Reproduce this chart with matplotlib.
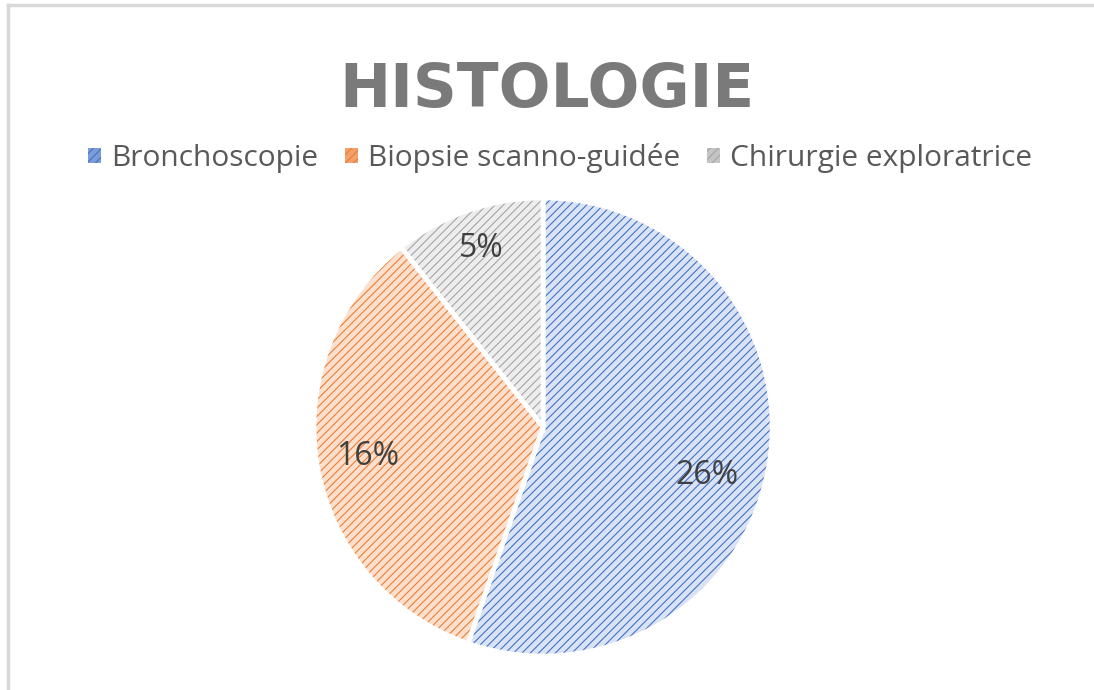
import matplotlib.pyplot as plt
import matplotlib.colors as mcolors
import numpy as np
from matplotlib.lines import Line2D
from matplotlib.patches import Patch

# données du graphique
categories = ["Bronchoscopie", "Biopsie scanno-guidée", "Chirurgie exploratrice"]
values = [26, 16, 5]
title = "HISTOLOGIE"

edge_colors = ["#4472C4", "#ED7D31", "#A5A5A5"]
face_colors = ["#DAE3F5", "#FCE0CD", "#EDEDED"]
legend_colors = ["#7D9BD6", "#F2A06C", "#C4C4C4"]
label_dist = [0.75, 0.78, 0.83]
label_shift = [-7, 0, 0]   # décalage angulaire des étiquettes (degrés)

plt.rcParams['font.family'] = ['Open Sans', 'DejaVu Sans']
plt.rcParams['hatch.linewidth'] = 0.8

fig = plt.figure(figsize=(10.94, 6.9), dpi=100)
ax = fig.add_axes([0.288, 0.0507, 0.4168, 0.661])

wedges, _ = ax.pie(values, startangle=90, counterclock=False, radius=1.005,
                   wedgeprops=dict(linewidth=3.5, edgecolor="white"))
for w, fc, hc in zip(wedges, face_colors, edge_colors):
    w.set_facecolor(fc)
    w.set_hatch("////")
    w._hatch_color = mcolors.to_rgba(hc)

# étiquettes de données (valeurs brutes)
for w, v, d, s in zip(wedges, values, label_dist, label_shift):
    ang = np.deg2rad((w.theta1 + w.theta2) / 2 + s)
    ax.text(d * np.cos(ang), d * np.sin(ang), f"{v}%", ha="center", va="center",
            fontsize=23, color="#404040")

ax.set_xlim(-1, 1)
ax.set_ylim(-1, 1)
ax.set_aspect("equal")
ax.axis("off")

fig.text(0.5, 1 - 107 / 690, title, ha="center", va="baseline", fontsize=44,
         fontweight="bold", color="#7A7A7A", family="DejaVu Sans")

handles = []
for lc, hc in zip(legend_colors, edge_colors):
    p = Patch(facecolor=lc, edgecolor="none", hatch="////")
    p._hatch_color = mcolors.to_rgba(hc)
    handles.append(p)

leg = fig.legend(handles, categories, loc="center", bbox_to_anchor=(0.512, 0.771),
                 ncol=3, frameon=False, fontsize=21.5, handlelength=0.42,
                 handleheight=0.42, handletextpad=0.35, columnspacing=0.9)
for t in leg.get_texts():
    t.set_color("#595959")

# bordure grise du cadre (haut et gauche)
fig.add_artist(Line2D([8 / 1094, 8 / 1094], [0, 1 - 5 / 690], transform=fig.transFigure,
                      color="#D9D9D9", lw=2.5))
fig.add_artist(Line2D([8 / 1094, 1], [1 - 5 / 690, 1 - 5 / 690], transform=fig.transFigure,
                      color="#D9D9D9", lw=2.5))

fig.savefig("out.png", dpi=100, facecolor="white")
